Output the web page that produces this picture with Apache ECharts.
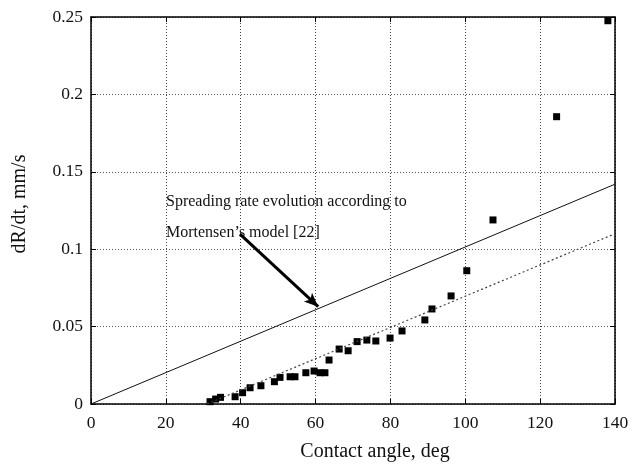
<!DOCTYPE html>
<html>
<head>
<meta charset="utf-8">
<script src="https://cdn.jsdelivr.net/npm/echarts@6/dist/echarts.min.js"></script>
<style>
  html, body { margin: 0; padding: 0; background: #fff; }
  #chart { width: 633px; height: 465px; }
</style>
</head>
<body>
<div id="chart"></div>
<script>
// measured points: contact angle (deg) vs dR/dt (mm/s)
const angle = [31.8, 33.3, 34.6, 38.5, 40.5, 42.5, 45.4, 49.0, 50.5, 53.2, 54.5, 57.4, 59.6, 61.2, 62.5,
  63.6, 66.3, 68.7, 71.1, 73.7, 76.1, 79.9, 83.1, 89.2, 91.1, 96.2, 100.4, 107.4, 124.4, 138.1]
const rate = [0.0015, 0.0032, 0.0043, 0.0047, 0.0073, 0.0105, 0.0118, 0.0144, 0.0172, 0.0176, 0.0176, 0.0202, 0.0213, 0.0202, 0.0202,
  0.0284, 0.0355, 0.0344, 0.0403, 0.0413, 0.0407, 0.0426, 0.0472, 0.0543, 0.0614, 0.0698, 0.0861, 0.1189, 0.1856, 0.2476]

// Mortensen's model (solid line)
const modelAngle = [0, 140]
const modelRate = [0, 0.142]

// fit through the measured points (dotted line)
const fitAngle = [31, 140]
const fitRate = [0, 0.11]

// arrow: from the annotation to the model line
const arrowFrom = [39.8, 0.1098]
const arrowTo = [60.7, 0.0629]

const xTicks = [0, 20, 40, 60, 80, 100, 120, 140]
const yTicks = [0, 0.05, 0.1, 0.15, 0.2, 0.25]

const font = '"Liberation Serif", "Times New Roman", serif'

const chart = echarts.init(document.getElementById('chart'))

const zip = (a, b) => a.map((v, i) => [v, b[i]])

const grid = { left: 91, right: 18, top: 17, bottom: 61, show: false }

chart.setOption({
  animation: false,
  grid,
  xAxis: [
    {
      type: 'value',
      min: xTicks[0],
      max: xTicks[xTicks.length - 1],
      interval: 20,
      axisLine: { show: true, onZero: false, lineStyle: { color: '#000', width: 1.5 } },
      axisTick: { show: true, inside: true, length: 5, lineStyle: { color: '#000' } },
      axisLabel: { color: '#111', fontFamily: font, fontSize: 17.5, margin: 10 },
      splitLine: { show: true, lineStyle: { color: '#444', type: [1, 2], width: 1 } },
    },
    {
      type: 'value',
      position: 'top',
      min: xTicks[0],
      max: xTicks[xTicks.length - 1],
      interval: 20,
      axisLine: { show: true, onZero: false, lineStyle: { color: '#000', width: 1.5 } },
      axisTick: { show: true, inside: true, length: 5, lineStyle: { color: '#000' } },
      axisLabel: { show: false },
      splitLine: { show: false },
    },
  ],
  yAxis: [
    {
      type: 'value',
      min: yTicks[0],
      max: yTicks[yTicks.length - 1],
      interval: 0.05,
      axisLine: { show: true, onZero: false, lineStyle: { color: '#000', width: 1.5 } },
      axisTick: { show: true, inside: true, length: 5, lineStyle: { color: '#000' } },
      axisLabel: {
        color: '#111', fontFamily: font, fontSize: 17.5, margin: 8,
        formatter: v => String(+v.toFixed(2)),
      },
      splitLine: { show: true, lineStyle: { color: '#555', type: [1, 2], width: 1 } },
    },
    {
      type: 'value',
      position: 'right',
      min: yTicks[0],
      max: yTicks[yTicks.length - 1],
      interval: 0.05,
      axisLine: { show: true, onZero: false, lineStyle: { color: '#000', width: 1.5 } },
      axisTick: { show: true, inside: true, length: 5, lineStyle: { color: '#000' } },
      axisLabel: { show: false },
      splitLine: { show: false },
    },
  ],
  graphic: [
    // y axis title
    {
      type: 'text',
      x: 20, y: 204,
      rotation: Math.PI / 2,
      style: { text: 'dR/dt, mm/s', font: '20px ' + font, fill: '#111', align: 'center', verticalAlign: 'middle' },
    },
    // x axis title
    {
      type: 'text',
      x: 375, y: 452,
      style: { text: 'Contact angle, deg', font: '20px ' + font, fill: '#111', align: 'center', verticalAlign: 'middle' },
    },
    // annotation
    {
      type: 'text',
      x: 166, y: 194,
      style: { text: 'Spreading rate evolution according to', font: '16px ' + font, fill: '#111', verticalAlign: 'alphabetic' },
    },
    {
      type: 'text',
      x: 166, y: 225,
      style: { text: 'Mortensen\u2019s model [22]', font: '16px ' + font, fill: '#111', verticalAlign: 'alphabetic' },
    },
  ],
  series: [
    {
      type: 'line',
      data: zip(modelAngle, modelRate),
      symbol: 'none',
      lineStyle: { color: '#111', width: 1 },
      markLine: {
        silent: true,
        symbol: ['none', 'arrow'],
        symbolSize: [9, 14],
        label: { show: false },
        lineStyle: { color: '#000', width: 3, type: 'solid' },
        data: [[{ coord: arrowFrom }, { coord: arrowTo }]],
      },
    },
    {
      type: 'line',
      data: zip(fitAngle, fitRate),
      symbol: 'none',
      lineStyle: { color: '#444', width: 1.2, type: [2, 2.5] },
    },
    {
      type: 'scatter',
      data: zip(angle, rate),
      symbol: 'rect',
      symbolSize: 7,
      itemStyle: { color: '#000', opacity: 1 },
    },
  ],
})
</script>
</body>
</html>
